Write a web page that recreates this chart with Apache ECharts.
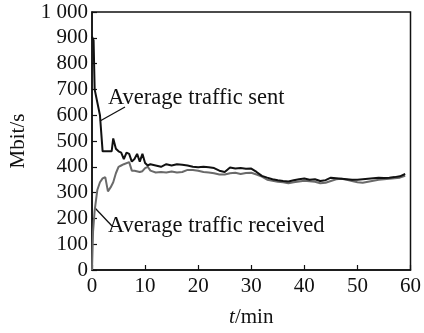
<!DOCTYPE html>
<html>
<head>
<meta charset="utf-8">
<script src="https://cdn.jsdelivr.net/npm/echarts@6/dist/echarts.min.js"></script>
<style>html,body{margin:0;padding:0;background:#fff}#c{width:424px;height:333px}</style>
</head>
<body>
<div id="c"></div>
<script>
var FONT = '"Liberation Serif","Times New Roman",serif';
var sentT = [0,0.3,0.5,1.5,2,3,3.7,4,4.5,5,5.5,6,6.5,7,7.5,8,8.5,9,9.5,10,10.5,11,12,13,14,15,16,17,18,19,20,21,22,23,24,25,26,27,28,29,30,31,32,33,34,35,36,37,38,39,40,41,42,43,44,45,46,47,48,49,50,51,52,53,54,55,56,57,58,59];
var sentV = [905,890,700,600,460,460,460,510,470,460,455,430,455,450,420,430,450,420,450,415,405,410,405,400,410,405,410,408,405,400,398,400,398,395,385,380,397,393,395,392,393,380,365,358,352,348,345,343,348,352,355,350,352,345,348,358,356,354,352,350,350,352,354,356,358,357,358,360,363,372];
var recvT = [0,0.2,0.5,1,1.5,2,2.5,3,3.5,4,4.5,5,5.5,6,7,7.5,8,9,9.5,10,10.5,11,12,13,14,15,16,17,18,19,20,21,22,23,24,25,26,27,28,29,30,31,32,33,34,35,36,37,38,39,40,41,42,43,44,45,46,47,48,49,50,51,52,53,54,55,56,57,58,59];
var recvV = [0,150,230,310,340,355,360,305,320,340,375,400,405,410,418,385,385,380,383,395,400,385,378,380,378,382,378,380,388,388,385,380,378,375,370,370,375,377,372,376,377,370,362,350,346,342,340,336,340,343,346,344,342,336,338,345,352,354,350,345,340,338,342,346,350,352,354,356,358,365];
var xTicks = [0,10,20,30,40,50,60];
var yTicks = [0,100,200,300,400,500,600,700,800,900,1000];

function pairs(t, v){ return t.map(function(x,i){ return [x, v[i]]; }); }

var chart = echarts.init(document.getElementById('c'), null, {renderer:'canvas'});
chart.setOption({
  animation: false,
  backgroundColor: '#fff',
  grid: {left: 91, right: 12, top: 12, bottom: 61, show: true, borderColor: '#111', borderWidth: 1.5, backgroundColor: 'transparent'},
  xAxis: {
    type: 'value', min: xTicks[0], max: xTicks[xTicks.length-1], interval: 10,
    name: '{i|t}/min', nameLocation: 'middle', nameGap: 37,
    nameTextStyle: {fontFamily: FONT, fontSize: 21, color: '#111', rich: {i: {fontFamily: FONT, fontStyle: 'italic', fontSize: 21, color: '#111'}}},
    axisLine: {lineStyle: {color: '#111', width: 1.5}},
    axisTick: {inside: true, length: 5, lineStyle: {color: '#111', width: 1.2}},
    axisLabel: {fontFamily: FONT, fontSize: 21, color: '#111', margin: 6},
    splitLine: {show: false}
  },
  yAxis: {
    type: 'value', min: yTicks[0], max: yTicks[yTicks.length-1], interval: 100,
    name: 'Mbit/s', nameLocation: 'middle', nameGap: 63, nameRotate: 90,
    nameTextStyle: {fontFamily: FONT, fontSize: 21, color: '#111'},
    axisLine: {lineStyle: {color: '#111', width: 1.5}},
    axisTick: {inside: true, length: 5, lineStyle: {color: '#111', width: 1.2}},
    axisLabel: {fontFamily: FONT, fontSize: 21, color: '#111', margin: 4,
      formatter: function(v){ return v >= 1000 ? '1 000' : String(v); }},
    splitLine: {show: false}
  },
  series: [
    {name: 'Average traffic received', type: 'line', data: pairs(recvT, recvV), showSymbol: false, symbol: 'none',
     lineStyle: {color: '#6a6a6a', width: 2}, z: 2},
    {name: 'Average traffic sent', type: 'line', data: pairs(sentT, sentV), showSymbol: false, symbol: 'none',
     lineStyle: {color: '#111', width: 2}, z: 3}
  ],
  graphic: [
    {type: 'line', shape: {x1: 100, y1: 121, x2: 125, y2: 107}, style: {stroke: '#111', lineWidth: 1.3}},
    {type: 'text', left: 108, top: 87, style: {text: 'Average traffic sent', font: '22.5px ' + FONT, fill: '#111'}},
    {type: 'line', shape: {x1: 95, y1: 208, x2: 112, y2: 226}, style: {stroke: '#111', lineWidth: 1.3}},
    {type: 'text', left: 108, top: 215, style: {text: 'Average traffic received', font: '22.5px ' + FONT, fill: '#111'}}
  ]
});
</script>
</body>
</html>
